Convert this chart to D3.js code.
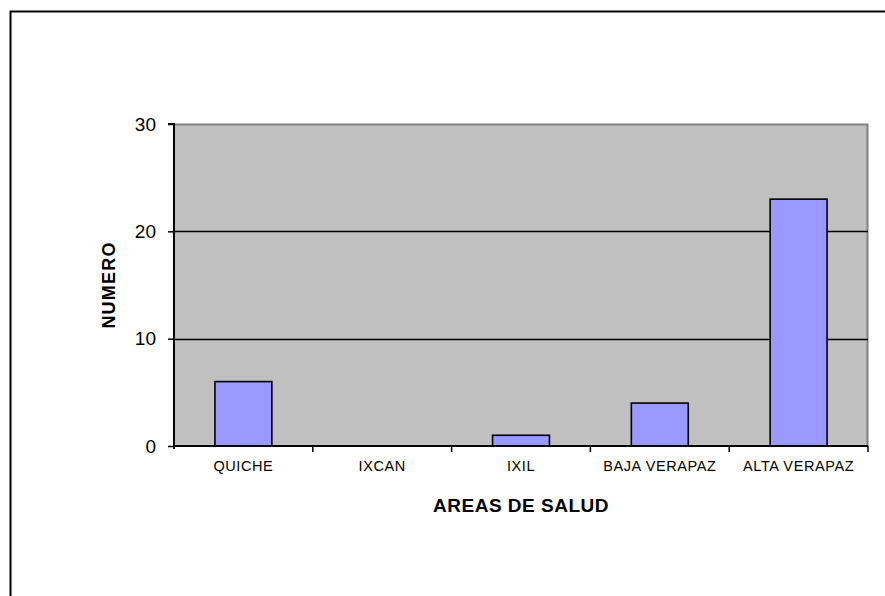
<!DOCTYPE html>
<html><head><meta charset="utf-8">
<script src="https://cdn.jsdelivr.net/npm/d3@7"></script>
<style>
body{margin:0;background:#fff;}
svg text{font-family:"Liberation Sans",Arial,sans-serif;fill:#000;}
</style></head>
<body>
<svg id="c" width="885" height="596"></svg>
<script>
const categories = ["QUICHE","IXCAN","IXIL","BAJA VERAPAZ","ALTA VERAPAZ"];
const values = [6, 0, 1, 4, 23];
const yTicks = [0, 10, 20, 30];
const xTitle = "AREAS DE SALUD";
const yTitle = "NUMERO";

const svg = d3.select("#c");
// outer chart border (left and top)
svg.append("path").attr("d","M10.5,596 V11.5 H885").attr("fill","none").attr("stroke","#000").attr("stroke-width",2);

const L=174, T=124, W=694, H=322;
const x = d3.scaleBand().domain(categories).range([L, L+W]).paddingInner(0).paddingOuter(0);
const y = d3.scaleLinear().domain([0,30]).range([T+H, T]);

svg.append("rect").attr("x",L).attr("y",T).attr("width",W).attr("height",H).attr("fill","#C0C0C0");
// plot border top/right gray
svg.append("path").attr("d",`M${L},${T+0.5} H${L+W-0.5} V${T+H}`).attr("fill","none").attr("stroke","#808080").attr("stroke-width",2);

// gridlines
svg.append("g").selectAll("line").data(yTicks.filter(v=>v>0 && v<30)).join("line")
  .attr("x1",L).attr("x2",L+W).attr("y1",d=>Math.round(y(d))+0.5).attr("y2",d=>Math.round(y(d))+0.5)
  .attr("stroke","#000").attr("stroke-width",1.3);

// bars
const barData = values.map((v,i)=>({c:categories[i],v})).filter(d=>d.v>0);
const bw = x.bandwidth()*0.41;
svg.append("g").selectAll("rect").data(barData).join("rect")
  .attr("x",d=>x(d.c)+x.bandwidth()/2-bw/2).attr("width",bw)
  .attr("y",d=>y(d.v)).attr("height",d=>y(0)-y(d.v))
  .attr("fill","#9999FF").attr("stroke","#000").attr("stroke-width",1.6);

// y axis
const ya = svg.append("g").attr("transform",`translate(${L},0)`)
  .call(d3.axisLeft(y).tickValues(yTicks).tickSize(6).tickPadding(12));
ya.select(".domain").attr("stroke","#000").attr("stroke-width",2).attr("d",`M-6,${T}H0V${T+H+3}`);
ya.selectAll(".tick line").attr("stroke","#000").attr("stroke-width",1.5);
ya.selectAll("text").attr("font-size",19).attr("fill","#000");

// x axis labels
const xa = svg.append("g").attr("transform",`translate(0,${T+H})`)
  .call(d3.axisBottom(x).tickSize(0).tickPadding(15));
xa.select(".domain").attr("stroke","#000").attr("stroke-width",2).attr("d",`M${L},0H${L+W}`);
xa.selectAll("text").attr("font-size",14.5).attr("letter-spacing","0.6px").attr("fill","#000");
// boundary ticks
const bounds = categories.slice(1).map(c=>x(c)).concat([L+W]);
svg.append("g").selectAll("line").data(bounds).join("line")
  .attr("x1",d=>d).attr("x2",d=>d).attr("y1",T+H).attr("y2",T+H+6)
  .attr("stroke","#000").attr("stroke-width",1.5);

// titles
svg.append("text").attr("x",L+W/2).attr("y",512).attr("text-anchor","middle")
  .attr("font-size",19).attr("font-weight","bold").attr("letter-spacing","0.5px").text(xTitle);
svg.append("text").attr("transform",`translate(115,${T+H/2}) rotate(-90)`).attr("text-anchor","middle")
  .attr("font-size",18).attr("font-weight","bold").attr("letter-spacing","1.2px").text(yTitle);
</script>
</body></html>
